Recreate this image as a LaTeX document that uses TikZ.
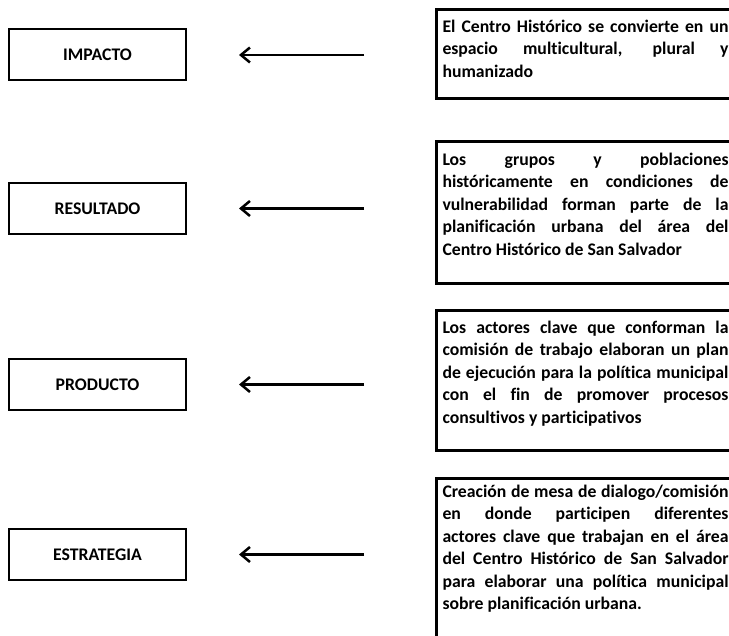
\documentclass[tikz,border=0pt]{standalone}
\usepackage{fontspec}
\setmainfont{Carlito}[Ligatures=NoCommon]
\usetikzlibrary{arrows.meta}
\newcommand{\jl}[1]{\makebox[\linewidth][s]{#1}\\}
\newcommand{\rbtext}[3]{\parbox[c][#1][t]{286pt}{\fontsize{17.7}{22.4}\selectfont\bfseries\noindent\rule{0pt}{#2}\ignorespaces#3}}
\begin{document}
\begin{tikzpicture}[x=1pt,y=-1pt,
  lbox/.style={draw, line width=2pt, minimum width=177pt, minimum height=51pt, inner sep=0pt,
    font=\fontsize{17.7}{20}\selectfont\bfseries},
  rbox/.style={draw, line width=3pt, anchor=north west, inner xsep=6pt, inner ysep=0pt, align=left},
  arr/.style={line width=2.5pt, -{Straight Barb[length=9pt,width=15pt]}}]
\clip (0,0) rectangle (729,636);
\fill[white] (0,0) rectangle (729,636);

\node[lbox] (l1) at (97.5,55) {IMPACTO};
\node[lbox] (l2) at (97.5,208.5) {RESULTADO};
\node[lbox] (l3) at (97.5,384.5) {PRODUCTO};
\node[lbox] (l4) at (97.5,554.5) {ESTRATEGIA};

\node[rbox] (r1) at (435,8) {\rbtext{89pt}{23pt}{%
\jl{El Centro Histórico se convierte en un}
\jl{espacio multicultural, plural y}
humanizado}};
\node[rbox] (r2) at (435,140) {\rbtext{142pt}{24pt}{%
\jl{Los grupos y poblaciones}
\jl{históricamente en condiciones de}
\jl{vulnerabilidad forman parte de la}
\jl{planificación urbana del área del}
Centro Histórico de San Salvador}};
\node[rbox] (r3) at (435,309) {\rbtext{140pt}{23pt}{%
\jl{Los actores clave que conforman la}
\jl{comisión de trabajo elaboran un plan}
\jl{de ejecución para la política municipal}
\jl{con el fin de promover procesos}
consultivos y participativos}};
\node[rbox] (r4) at (435,477) {\rbtext{175pt}{19pt}{%
\jl{Creación de mesa de dialogo/comisión}
\jl{en donde participen diferentes}
\jl{actores clave que trabajan en el área}
\jl{del Centro Histórico de San Salvador}
\jl{para elaborar una política municipal}
sobre planificación urbana.}};

\draw[arr, shorten <=71pt, shorten >=52pt] (r1.west |- l1.east) -- (l1.east);
\draw[arr, shorten <=71pt, shorten >=52pt] (r2.west |- l2.east) -- (l2.east);
\draw[arr, shorten <=71pt, shorten >=52pt] (r3.west |- l3.east) -- (l3.east);
\draw[arr, shorten <=71pt, shorten >=52pt] (r4.west |- l4.east) -- (l4.east);
\end{tikzpicture}
\end{document}
